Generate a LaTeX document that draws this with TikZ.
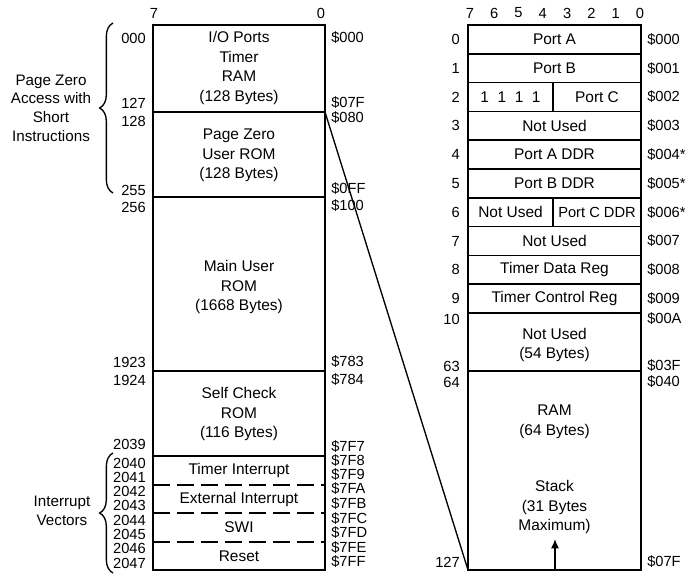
\documentclass[tikz,border=0pt]{standalone}
\usepackage{fontspec}
\setmainfont{Liberation Sans}
\usetikzlibrary{arrows.meta,positioning,decorations.pathreplacing}
\tikzset{
  >={Latex[length=7pt, width=6pt]},
  mem/.style={draw, line width=1.1pt},
  vecline/.style={draw, line width=1.1pt, dash pattern=on 13pt off 5pt},
  lbl/.style={inner sep=0pt, align=center, font=\fontsize{11.6}{14.6}\selectfont},
  side/.style={inner sep=0pt, align=center, font=\fontsize{11.4}{14}\selectfont},
  addr/.style={inner sep=0pt, anchor=east, font=\fontsize{11}{12}\selectfont},
  hex/.style={inner sep=0pt, anchor=west, font=\fontsize{11}{12}\selectfont},
  bitno/.style={inner sep=0pt, font=\fontsize{11}{12}\selectfont},
  brc/.style={decorate, decoration={brace, amplitude=10pt}, line width=1pt},
}

\begin{document}
\begin{tikzpicture}[x=0.75pt, y=-0.75pt]
  \useasboundingbox (0,0) rectangle (687,576);

  % left map: whole 2K
  \draw[mem] (153,25) rectangle (325,570);
  \foreach \y in {112,197,371,456}
    \draw[mem] (153,\y) -- (325,\y);
  \foreach \y in {485,513,542}
    \draw[vecline] (153,\y) -- (325,\y);

  \node[bitno] (lb7) at (154,13) {7};
  \node[bitno] (lb0) at (321,13) {0};

  \node[lbl] (io) at (239,68) {I/O Ports\\Timer\\RAM\\(128 Bytes)};
  \node[lbl] (pzrom) at (239,155.5) {Page Zero\\User ROM\\(128 Bytes)};
  \node[lbl] (mainrom) at (239,287) {Main User\\ROM\\(1668 Bytes)};
  \node[lbl] (selfchk) at (239,414) {Self Check\\ROM\\(116 Bytes)};
  \node[lbl] (tmrint) at (239,470.5) {Timer Interrupt};
  \node[lbl] (extint) at (239,499) {External Interrupt};
  \node[lbl] (swi) at (239,527.5) {SWI};
  \node[lbl] (rst) at (239,556) {Reset};

  \foreach \n/\y in {000/38,127/103,128/121,255/190,256/207,1923/362,1924/380,
                     2039/444,2040/463,2041/477,2042/491,2043/505,2044/520,
                     2045/534,2046/548,2047/563}
    \node[addr] (a\n) at (146,\y) {\n};
  \foreach \h/\y in {000/38,07F/103,080/118,0FF/189,100/206,783/362,784/380,
                     7F7/447,7F8/461,7F9/475,7FA/489,7FB/504,7FC/519,
                     7FD/533,7FE/548,7FF/562}
    \node[hex] (h\h) at (331,\y) {\$\h};

  % braces and their notes
  \draw[brc] (113,193) -- (113,23);
  \node[side] (pznote) at (51,108) {Page Zero\\Access with\\Short\\Instructions};
  \draw[brc] (113,573) -- (113,453);
  \node[side] (ivnote) at (62,511) {Interrupt\\Vectors};

  % right map: page zero detail
  \draw[mem] (468,25) rectangle (641,570);
  \foreach \k in {1,...,10}
    \draw[mem] (468,{25+28.8*\k}) -- (641,{25+28.8*\k});
  \draw[mem] (468,371) -- (641,371);
  \draw[mem] (553,82.6) -- (553,111.4);
  \draw[mem] (553,197.8) -- (553,226.6);

  \foreach \b in {0,...,7}
    \node[bitno] (rb\b) at ({640-24.3*\b},13) {\b};

  \node[lbl] (porta) at (554.5,39.4) {Port A};
  \node[lbl] (portb) at (554.5,68.2) {Port B};
  \node[lbl] (ones) at (510.5,97) {1\ \ 1\ \ 1\ \ 1};
  \node[lbl] (portc) at (597,97) {Port C};
  \node[lbl] (nu3) at (554.5,125.8) {Not Used};
  \node[lbl] (ddra) at (554.5,154.6) {Port A DDR};
  \node[lbl] (ddrb) at (554.5,183.4) {Port B DDR};
  \node[lbl] (nu6) at (510.5,212.2) {Not Used};
  \node[lbl, font=\fontsize{11}{14}\selectfont] (ddrc) at (597,212.2) {Port C DDR};
  \node[lbl] (nu7) at (554.5,241) {Not Used};
  \node[lbl] (tdr) at (554.5,269.8) {Timer Data Reg};
  \node[lbl] (tcr) at (554.5,298.6) {Timer Control Reg};
  \node[lbl] (nu54) at (554.5,345) {Not Used\\(54 Bytes)};
  \node[lbl] (ram) at (554.5,422) {RAM\\(64 Bytes)};
  \node[lbl] (stack) at (554.5,507) {Stack\\(31 Bytes\\Maximum)};

  \foreach \n/\y in {0/39.4,1/68.2,2/97,3/125.8,4/154.6,5/183.4,6/212.2,
                     7/241,8/269.8,9/298.6,10/319,63/366,64/382,127/562}
    \node[addr] (r\n) at (460,\y) {\n};
  \foreach \h/\y in {000/39.4,001/68.2,002/97,003/125.8,004*/154.6,005*/183.4,
                     006*/212.2,007/241,008/269.8,009/298.6,00A/319,03F/366,
                     040/382,07F/562}
    \node[hex] at (647,\y) {\$\h};

  % page zero zoom line and stack growth
  \coordinate (pztop) at (325,112);
  \coordinate (rbot) at (468,570);
  \draw[line width=1pt] (pztop) -- (rbot);
  \coordinate (stkbase) at (555,570);
  \coordinate (stktip) at (555,539);
  \draw[->, line width=1.1pt] (stkbase) -- (stktip);
\end{tikzpicture}
\end{document}
